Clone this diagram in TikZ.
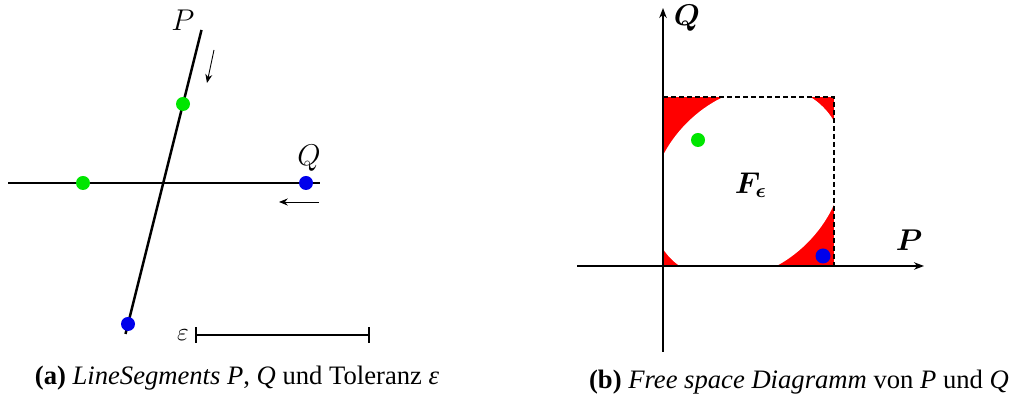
\documentclass[tikz,border=0pt]{standalone}
\usepackage{amsmath}
\usepackage{fontspec}
\setmainfont{Liberation Serif}
\usetikzlibrary{arrows.meta}
\definecolor{dotgreen}{RGB}{0,230,0}
\definecolor{dotblue}{RGB}{0,0,235}
\definecolor{fsred}{RGB}{255,0,0}
\begin{document}
\begin{tikzpicture}[x=0.4pt,y=0.4pt,
  seg/.style={line width=1pt,black},
  gdot/.style={circle,fill=dotgreen,inner sep=0pt,minimum size=5.6pt},
  bdot/.style={circle,fill=dotblue,inner sep=0pt,minimum size=5.6pt},
  motion/.style={line width=0.35pt,-{Stealth[length=3.5pt,width=2.8pt]}},
  axis/.style={line width=0.55pt,-{Stealth[length=4pt,width=3pt]}},
  lbl/.style={inner sep=0pt,font=\large},
  captext/.style={inner sep=0pt,font=\fontsize{10.65}{12}\selectfont}]
\useasboundingbox (0,0) rectangle (1014,399);
% ---------- (a) ----------
\coordinate (Ptop) at (201.5,369);
\coordinate (Pbot) at (125.5,65);
\coordinate (Qleft) at (8,216);
\coordinate (Qright) at (320,216);
\draw[seg] (Ptop) -- (Pbot);
\draw[line width=0.8pt] (Qleft) -- (Qright);
\node[gdot] (pg) at (183,295) {};
\node[bdot] (pb) at (128,75) {};
\node[gdot] (qg) at (83,216) {};
\node[bdot] (qb) at (306,216) {};
\node[lbl] (Plab) at (183,379) {$P$};
\node[lbl] (Qlab) at (309,241) {$Q$};
\coordinate (a1s) at (214,349);
\coordinate (a1e) at (207,316);
\draw[motion] (a1s) -- (a1e);
\coordinate (a2s) at (319,197);
\coordinate (a2e) at (279,197);
\draw[motion] (a2s) -- (a2e);
\node[inner sep=0pt] (eps) at (183,64) {$\varepsilon$};
\coordinate (e1) at (196,64);
\coordinate (e2) at (369,64);
\draw[line width=0.6pt] (e1) -- (e2);
\draw[line width=0.6pt] ([yshift=-3.2pt]e1) -- ([yshift=3.2pt]e1);
\draw[line width=0.6pt] ([yshift=-3.2pt]e2) -- ([yshift=3.2pt]e2);
\node[captext] (capa) at (237,21) {\textbf{(a)} \textit{LineSegments P}, \textit{Q} und Toleranz \textit{ε}};
% ---------- (b) ----------
\coordinate (O) at (663,133);
\coordinate (TR) at (834,302);
\begin{scope}
  \clip (O) rectangle (TR);
  \fill[fsred] (O) rectangle (TR);
  \fill[white,rotate around={45:(748.5,217.5)}] (746.5,217.5) ellipse [x radius=107.4, y radius=85];
\end{scope}
\draw[line width=0.5pt,dash pattern=on 2pt off 1.2pt] (663,302) -- (TR) -- (834,133);
\coordinate (vb) at (663,47);
\coordinate (vt) at (663,391);
\coordinate (hl) at (577,133);
\coordinate (hr) at (924,133);
\draw[axis] (vb) -- (vt);
\draw[axis] (hl) -- (hr);
\node[lbl] (Qax) at (687,381) {$\boldsymbol{Q}$};
\node[lbl] (Pax) at (909,159) {$\boldsymbol{P}$};
\node[gdot] (fg) at (698,259) {};
\node[bdot,minimum size=6pt] (fb) at (823,143) {};
\node[inner sep=0pt,font=\large] (F) at (751,214) {$\boldsymbol{F_\epsilon}$};
\node[captext] (capb) at (799,17) {\textbf{(b)} \textit{Free space Diagramm} von \textit{P} und \textit{Q}};
\end{tikzpicture}
\end{document}
